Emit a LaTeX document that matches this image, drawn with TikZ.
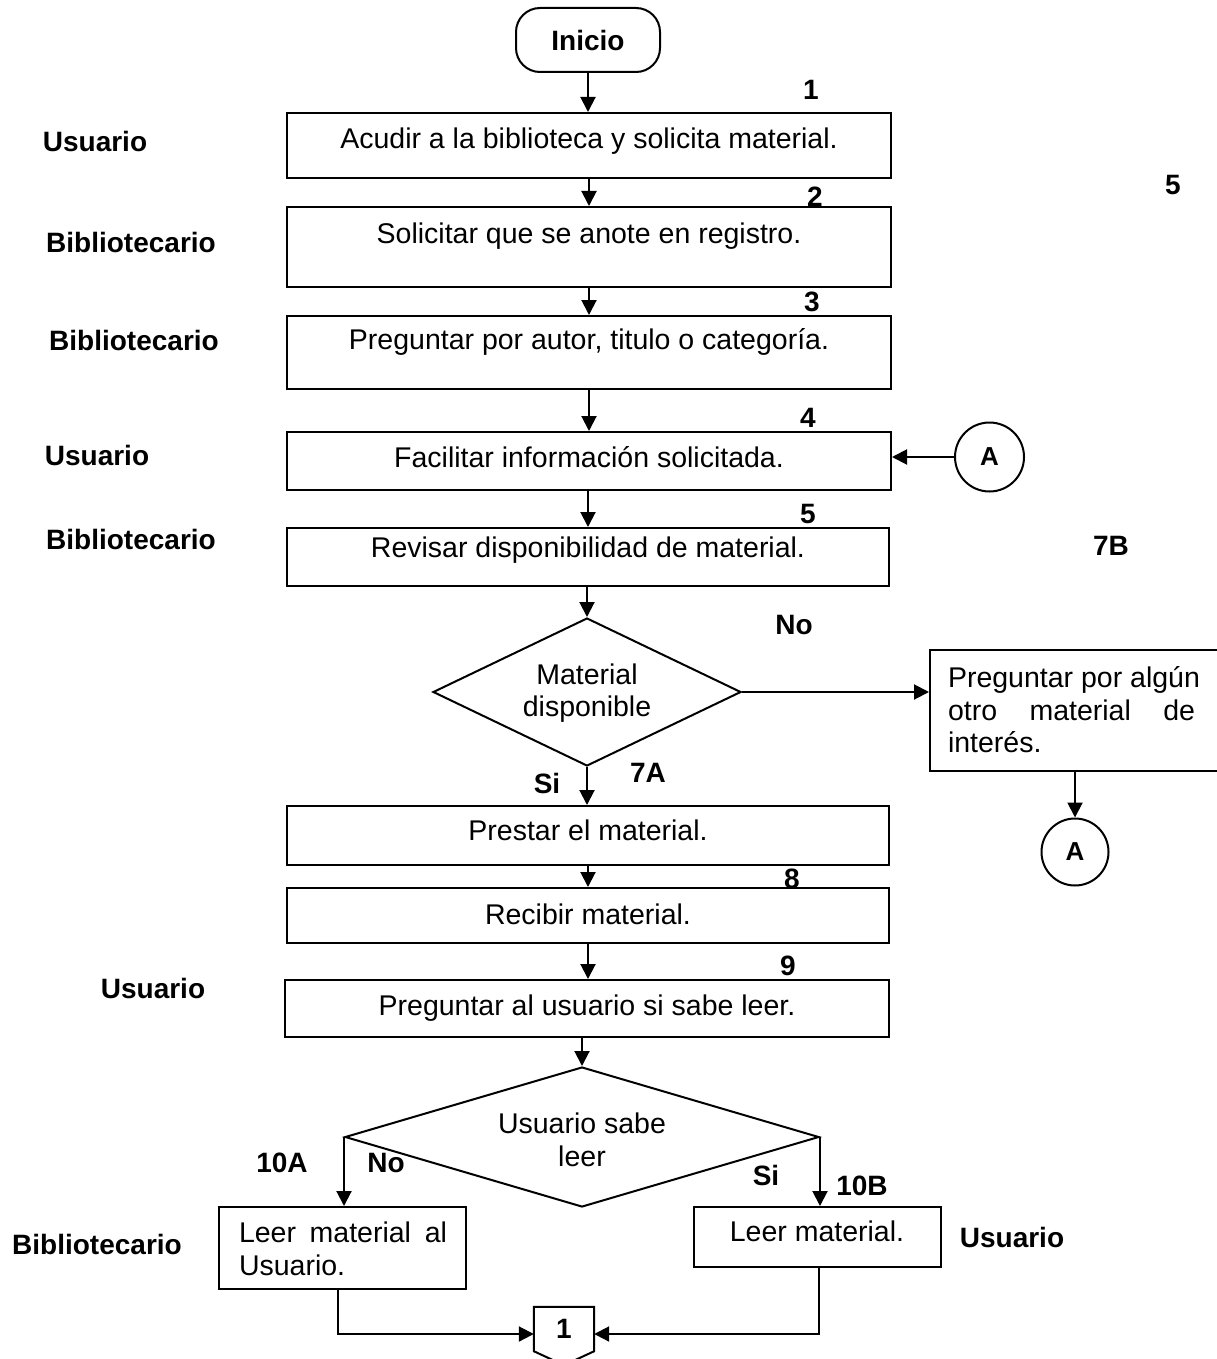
\documentclass[tikz,border=0pt]{standalone}
\usepackage{fontspec}
\setmainfont{Liberation Sans}
\usetikzlibrary{arrows.meta,shapes.geometric,calc}
\begin{document}
\begin{tikzpicture}[x=1pt,y=-1pt,
  box/.style={draw,rectangle,inner sep=0pt,line width=2pt},
  dia/.style={draw,diamond,inner sep=0pt,line width=2pt},
  circ/.style={draw,circle,inner sep=0pt,line width=2pt,font=\fontsize{26}{30}\selectfont\bfseries},
  txt/.style={inner sep=0pt,font=\fontsize{28.5}{32.5}\selectfont},
  lbl/.style={inner sep=0pt,font=\fontsize{28}{32}\selectfont\bfseries},
  arr/.style={-{Triangle[length=15pt,width=15pt]},line width=2pt},
  ln/.style={line width=2pt}]
\useasboundingbox (0,0) rectangle (1216,1359);

% start
\node[box,rounded corners=24pt,minimum width=144pt,minimum height=64pt,font=\fontsize{28}{32}\selectfont\bfseries] (ini) at (588,40) {Inicio};

% process boxes
\node[box,minimum width=604pt,minimum height=65pt] (b1) at (589,145.5) {};
\node[txt] (t1) at (589,141) {Acudir a la biblioteca y solicita material.};
\node[box,minimum width=604pt,minimum height=80pt] (b2) at (589,247) {};
\node[txt] (t2) at (589,236) {Solicitar que se anote en registro.};
\node[box,minimum width=604pt,minimum height=73pt] (b3) at (589,352.5) {};
\node[txt] (t3) at (589,342) {Preguntar por autor, titulo o categoría.};
\node[box,minimum width=604pt,minimum height=58pt] (b4) at (589,461) {};
\node[txt] (t4) at (589,457) {Facilitar información solicitada.};
\node[box,minimum width=602pt,minimum height=58pt] (b5) at (588,557) {};
\node[txt] (t5) at (588,550) {Revisar disponibilidad de material.};

% decision 1
\node[dia,minimum width=308pt,minimum height=148pt] (d1) at (587,692) {};
\node[txt,align=center] (td1) at (587,693) {Material\\disponible};

% branch No
\node[box,minimum width=290pt,minimum height=121pt] (b7B) at (1075,710.5) {};
\node[txt,align=left] (t7B) at (1074,710) {Preguntar por algún\\\makebox[247pt][s]{otro material de}\\interés.};
\node[circ,minimum size=69pt] (cA1) at (989.5,457) {A};
\node[circ,minimum size=67pt] (cA2) at (1075,852) {A};

% branch Si
\node[box,minimum width=602pt,minimum height=59pt] (b7A) at (588,835.5) {};
\node[txt] (t7A) at (588,830) {Prestar el material.};
\node[box,minimum width=602pt,minimum height=55pt] (b8) at (588,915.5) {};
\node[txt] (t8) at (588,914) {Recibir material.};
\node[box,minimum width=604pt,minimum height=57pt] (b9) at (587,1008.5) {};
\node[txt] (t9) at (587,1008) {Preguntar al usuario si sabe leer.};

% decision 2
\node[dia,minimum width=474pt,minimum height=140pt] (d2) at (582,1137) {};
\node[txt,align=center] (td2) at (582,1140) {Usuario sabe\\leer};

\node[box,minimum width=247pt,minimum height=82pt] (b10A) at (342.5,1248) {};
\node[txt,align=left] (t10A) at (343,1249) {\makebox[208pt][s]{Leer material al}\\Usuario.};
\node[box,minimum width=247pt,minimum height=60pt] (b10B) at (817.5,1237) {};
\node[txt] (t10B) at (817,1231) {Leer material.};

% off-page connector
\node[inner sep=0pt,minimum width=60pt,minimum height=44pt,font=\fontsize{28}{32}\selectfont\bfseries] (c1) at (564,1329) {1};
\draw[ln] (c1.north west) -- (c1.north east) -- (c1.south east) -- ($(c1.south)+(0,14)$) -- (c1.south west) -- cycle;

% connectors
\draw[arr] (ini.south) -- (ini.south |- b1.north);
\draw[arr] (b1.south) -- (b1.south |- b2.north);
\draw[arr] (b2.south) -- (b2.south |- b3.north);
\draw[arr] (b3.south) -- (b3.south |- b4.north);
\draw[arr] (b5.north |- b4.south) -- (b5.north);
\draw[arr] (d1.north |- b5.south) -- (d1.north);
\draw[arr] (d1.east) -- (d1.east -| b7B.west);
\draw[arr] (cA2.north |- b7B.south) -- (cA2.north);
\draw[arr] (cA1.west) -- (cA1.west -| b4.east);
\draw[arr] (d1.south) -- (d1.south |- b7A.north);
\draw[arr] (b7A.south) -- (b7A.south |- b8.north);
\draw[arr] (b8.south) -- (b8.south |- b9.north);
\draw[arr] (d2.north |- b9.south) -- (d2.north);
\draw[arr] (d2.west) -- (d2.west |- b10A.north);
\draw[arr] (d2.east) -- (d2.east |- b10B.north);
\draw[arr] ([xshift=-5pt]b10A.south) |- ([yshift=-5pt]c1.west);
\draw[arr] ([xshift=1.5pt]b10B.south) |- ([yshift=-5pt]c1.east);

% role labels
\node[lbl] (r1) at (95,141) {Usuario};
\node[lbl] (r2) at (131,242) {Bibliotecario};
\node[lbl] (r3) at (134,340) {Bibliotecario};
\node[lbl] (r4) at (97,455) {Usuario};
\node[lbl] (r5) at (131,539) {Bibliotecario};
\node[lbl] (r6) at (153,988) {Usuario};
\node[lbl] (r7) at (97,1244) {Bibliotecario};
\node[lbl] (r8) at (1012,1237) {Usuario};

% step numbers and branch labels
\node[lbl] (n1) at (811,90) {1};
\node[lbl] (n2) at (815,197) {2};
\node[lbl] (n3) at (812,302) {3};
\node[lbl] (n4) at (808,418) {4};
\node[lbl] (n5) at (808,514) {5};
\node[lbl] (n5b) at (1173,185) {5};
\node[lbl] (n7B) at (1111,546) {7B};
\node[lbl] (no1) at (794,625) {No};
\node[lbl] (si1) at (547,783) {Si};
\node[lbl] (n7A) at (648,773) {7A};
\node[lbl] (n8) at (792,879) {8};
\node[lbl] (n9) at (788,966) {9};
\node[lbl] (n10A) at (282,1163) {10A};
\node[lbl] (no2) at (386,1163) {No};
\node[lbl] (si2) at (766,1175) {Si};
\node[lbl] (n10B) at (862,1186) {10B};
\end{tikzpicture}
\end{document}
